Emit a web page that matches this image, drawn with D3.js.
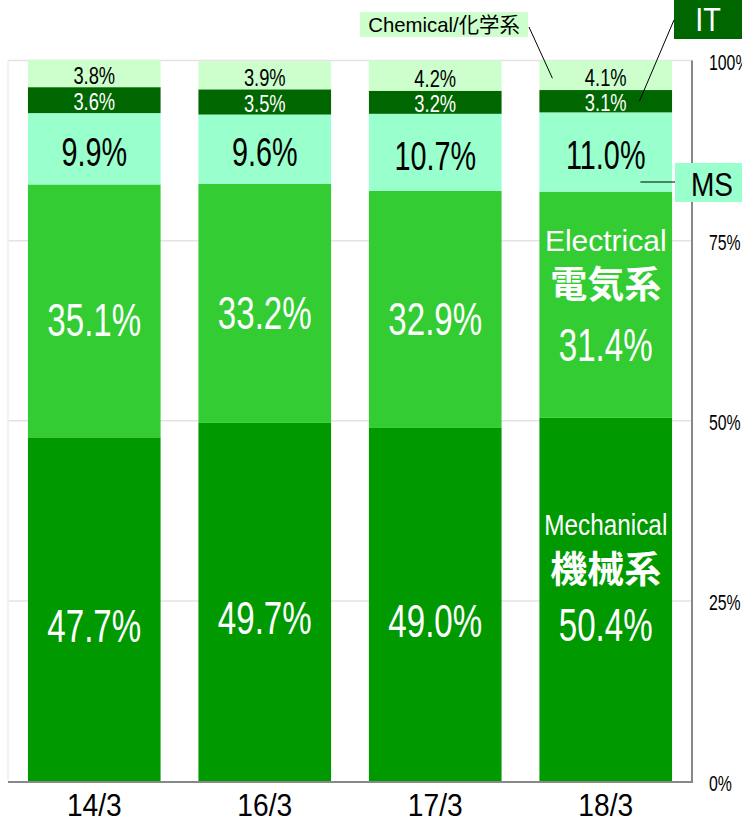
<!DOCTYPE html>
<html>
<head>
<meta charset="utf-8">
<script src="https://cdn.jsdelivr.net/npm/d3@7"></script>
<style>
  body { margin: 0; background: #fff; }
  svg { display: block; font-family: "Liberation Sans", "Noto Sans CJK JP", sans-serif; }
</style>
</head>
<body>
<div id="chart"></div>
<script>
// data (share in %, bottom to top)
var categories = ["14/3", "16/3", "17/3", "18/3"];
var mechanical = [47.7, 49.7, 49.0, 50.4];
var electrical = [35.1, 33.2, 32.9, 31.4];
var ms = [9.9, 9.6, 10.7, 11.0];
var it = [3.6, 3.5, 3.2, 3.1];
var chemical = [3.8, 3.9, 4.2, 4.1];
var yTicks = [0, 25, 50, 75, 100];
var seriesKeys = ["mechanical", "electrical", "ms", "it", "chemical"];

var colors = {
  mechanical: "#009900",
  electrical: "#33cc33",
  ms: "#99ffcc",
  it: "#006600",
  chemical: "#ccffcc"
};
var textColors = { mechanical: "#fff", electrical: "#fff", ms: "#000", it: "#fff", chemical: "#000" };

var W = 742, H = 818;
var plot = { left: 8, right: 692, top: 60.5, bottom: 781 };

var svg = d3.select("#chart").append("svg")
  .attr("width", W).attr("height", H);

var rows = categories.map(function(c, i) {
  return { cat: c, mechanical: mechanical[i], electrical: electrical[i], ms: ms[i], it: it[i], chemical: chemical[i] };
});

var x = d3.scaleBand()
  .domain(categories)
  .range([plot.left, plot.right])
  .paddingInner(0.222)
  .paddingOuter(0.117);

var y = d3.scaleLinear()
  .domain([0, 100])
  .range([plot.bottom, plot.top]);

// grid
svg.append("g").selectAll("line")
  .data(yTicks.filter(function(d) { return d > 0; }))
  .enter().append("line")
  .attr("x1", plot.left).attr("x2", plot.right)
  .attr("y1", function(d) { return y(d); }).attr("y2", function(d) { return y(d); })
  .attr("stroke", "#e3e3e3").attr("stroke-width", 1.5);
svg.append("line")
  .attr("x1", plot.left).attr("x2", plot.left)
  .attr("y1", y(100)).attr("y2", y(0))
  .attr("stroke", "#eeeeee").attr("stroke-width", 1.5);

// stacked bars
var stack = d3.stack().keys(seriesKeys)(rows);

var layers = svg.append("g").selectAll("g")
  .data(stack)
  .enter().append("g")
  .attr("fill", function(d) { return colors[d.key]; });

layers.selectAll("rect")
  .data(function(d) { return d; })
  .enter().append("rect")
  .attr("x", function(d) { return x(d.data.cat); })
  .attr("width", x.bandwidth())
  .attr("y", function(d) { return y(d[1]); })
  .attr("height", function(d) { return y(d[0]) - y(d[1]); });

// axes lines
svg.append("line")
  .attr("x1", plot.right).attr("x2", plot.right)
  .attr("y1", y(100)).attr("y2", y(0) + 1)
  .attr("stroke", "#888").attr("stroke-width", 2);
svg.append("line")
  .attr("x1", plot.left).attr("x2", plot.right + 1)
  .attr("y1", y(0) + 1).attr("y2", y(0) + 1)
  .attr("stroke", "#888").attr("stroke-width", 2);

// text helper: centred at (cx, cy), condensed horizontally
function label(g, txt, cx, cy, size, sx, fill, weight) {
  return g.append("text")
    .attr("transform", "translate(" + cx + "," + (cy + size * 0.358) + ") scale(" + sx + ",1)")
    .attr("text-anchor", "middle")
    .attr("font-size", size)
    .attr("font-weight", weight || "normal")
    .attr("fill", fill)
    .text(txt);
}

var labelSize = { mechanical: 46, electrical: 46, ms: 40, it: 23.5, chemical: 23.5 };
var labelScale = { mechanical: 0.72, electrical: 0.72, ms: 0.72, it: 0.78, chemical: 0.78 };
var labelShift = { mechanical: 16, electrical: 9, ms: 3, it: 1.5, chemical: 2.5 };

var labels = svg.append("g");
stack.forEach(function(layer) {
  layer.forEach(function(d, i) {
    var cx = x(d.data.cat) + x.bandwidth() / 2;
    var cy = (y(d[0]) + y(d[1])) / 2;
    var val = d[1] - d[0];
    var txt = d3.format(".1f")(val) + "%";
    var k = layer.key;
    if (i === categories.length - 1 && k === "electrical") {
      label(labels, "Electrical", cx, cy - 64, 30, 1, "#fff");
      label(labels, "電気系", cx, cy - 20, 37, 1, "#fff", "bold");
      label(labels, txt, cx, cy + 40, 46, 0.72, "#fff");
    } else if (i === categories.length - 1 && k === "mechanical") {
      label(labels, "Mechanical", cx, cy - 75, 29, 0.84, "#fff");
      label(labels, "機械系", cx, cy - 30, 37, 1, "#fff", "bold");
      label(labels, txt, cx, cy + 25, 46, 0.72, "#fff");
    } else {
      label(labels, txt, cx, cy + labelShift[k], labelSize[k], labelScale[k], textColors[k]);
    }
  });
});

// right axis
var yAxis = svg.append("g")
  .attr("transform", "translate(" + plot.right + ",0)")
  .call(d3.axisRight(y).tickValues(yTicks).tickSize(0).tickPadding(0)
    .tickFormat(function(d) { return d + "%"; }));
yAxis.select(".domain").remove();
yAxis.selectAll("text")
  .attr("x", 0)
  .attr("font-size", 22)
  .attr("font-family", "Liberation Sans, sans-serif")
  .attr("fill", "#000")
  .attr("transform", "translate(17,2) scale(0.72,1)");

// bottom axis
var xAxis = svg.append("g")
  .attr("transform", "translate(0," + plot.bottom + ")")
  .call(d3.axisBottom(x).tickSize(0).tickPadding(0));
xAxis.select(".domain").remove();
xAxis.selectAll("text")
  .attr("y", 0).attr("dy", 0)
  .attr("font-size", 32)
  .attr("font-family", "Liberation Sans, sans-serif")
  .attr("fill", "#000")
  .attr("transform", "translate(0,34.5) scale(0.88,1)");

// callouts
var last = stack.map(function(layer) { return layer[categories.length - 1]; });
var lastX = x(categories[categories.length - 1]);

// Chemical
svg.append("rect").attr("x", 360).attr("y", 12).attr("width", 168).attr("height", 25)
  .attr("fill", colors.chemical);
label(svg, "Chemical/化学系", 444, 24.5, 21, 0.97, "#000");
svg.append("line")
  .attr("x1", 529).attr("y1", 27)
  .attr("x2", lastX + 13).attr("y2", y((last[4][0] + last[4][1]) / 2) + 3)
  .attr("stroke", "#000").attr("stroke-width", 1);

// IT
svg.append("rect").attr("x", 674).attr("y", 0).attr("width", 68).attr("height", 39)
  .attr("fill", colors.it);
label(svg, "IT", 708, 19, 34, 0.85, "#fff");
svg.append("line")
  .attr("x1", 674).attr("y1", 20)
  .attr("x2", lastX + 100).attr("y2", y((last[3][0] + last[3][1]) / 2))
  .attr("stroke", "#000").attr("stroke-width", 1);

// MS
svg.append("rect").attr("x", 675).attr("y", 163).attr("width", 67).attr("height", 39)
  .attr("fill", colors.ms);
label(svg, "MS", 712, 184, 33, 0.85, "#000");
svg.append("line")
  .attr("x1", lastX + 101).attr("y1", 182)
  .attr("x2", 675).attr("y2", 182)
  .attr("stroke", "#000").attr("stroke-width", 1);
</script>
</body>
</html>
